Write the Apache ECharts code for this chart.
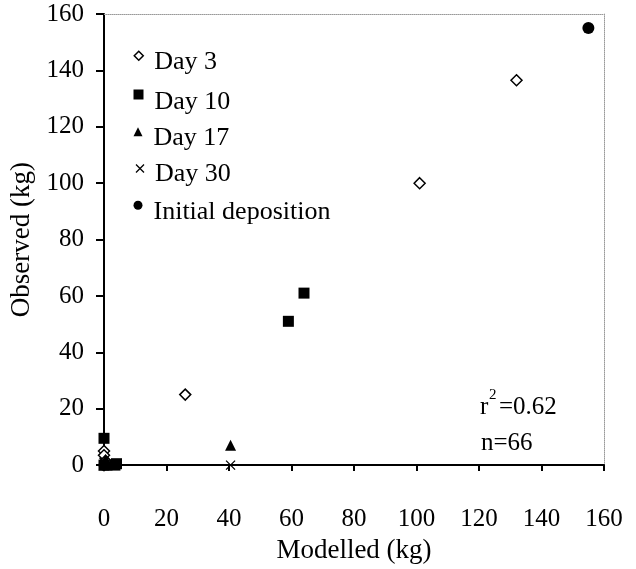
<!DOCTYPE html>
<html>
<head>
<meta charset="utf-8">
<script src="https://cdn.jsdelivr.net/npm/echarts@6/dist/echarts.min.js"></script>
<style>
html,body{margin:0;padding:0;background:#fff;}
#c{width:636px;height:569px;}
</style>
</head>
<body>
<div id="c"></div>
<script>
// Data (Modelled kg, Observed kg)
const day3 = [[0,5],[0,3.5],[0.5,1.5],[0,0],[26,25],[101,100],[132,136.5]];
const day10 = [[0,9.5],[0,0],[3.5,0],[4,0.5],[59,51],[64,61]];
const day17 = [[0,0],[0.5,2],[1,0],[40.5,7],[40.5,-0.5]];
const day30 = [[0,0],[0.5,0.5],[0,1],[1,0],[40.5,0]];
const initialDep = [[155,155]];
const xTicks = [0,20,40,60,80,100,120,140,160];
const yTicks = [0,20,40,60,80,100,120,140,160];
const seriesNames = ['Day 3','Day 10','Day 17','Day 30','Initial deposition'];
const statR2 = '0.62';
const statN = '66';

const FONT = 'Liberation Serif';
const crossPath = 'path://M0,0L10,10M10,0L0,10';
// legend icons: shape in the top of the box so the icon sits above the text centre
const icDiamond = 'path://M5,0L10,5L5,10L0,5ZM5,25L5,25';
const icRect = 'path://M0,0L10,0L10,10L0,10ZM5,25L5,25';
const icTri = 'path://M5,0L10,10L0,10ZM5,25L5,25';
const icCross = 'path://M0,0L10,10M10,0L0,10M5,25L5,25';
const icCircle = 'path://M0,5A5,5,0,1,1,10,5A5,5,0,1,1,0,5ZM5,25L5,25';

const chart = echarts.init(document.getElementById('c'), null, {renderer:'canvas'});

function legendAt(name, top, icon, w, h, style){
  return {
    show:true, orient:'vertical', left:133.5, top:top,
    itemWidth:w, itemHeight:h, itemGap:0,
    data:[{name:name, icon:icon, itemStyle:style}],
    textStyle:{fontFamily:FONT, fontSize:26, color:'#000', padding:[0,0,0,6], lineHeight:26},
    selectedMode:false,
    padding:0
  };
}

const option = {
  animation:false,
  backgroundColor:'#fff',
  grid:{left:104, right:32, top:14, bottom:97, containLabel:false},
  xAxis:[{
    type:'value', min:xTicks[0], max:xTicks[xTicks.length-1], interval:20,
    position:'bottom',
    name:'Modelled (kg)', nameLocation:'middle', nameGap:65,
    nameTextStyle:{fontFamily:FONT, fontSize:27, color:'#000'},
    axisLine:{show:true, onZero:false, lineStyle:{color:'#000', width:2}},
    axisTick:{show:true, length:6, lineStyle:{color:'#000', width:2}},
    axisLabel:{fontFamily:FONT, fontSize:25, color:'#000', margin:42, showMinLabel:true, showMaxLabel:true},
    splitLine:{show:false}
  },{
    type:'value', min:xTicks[0], max:xTicks[xTicks.length-1], interval:20,
    position:'top',
    axisLine:{show:true, onZero:false, lineStyle:{color:'#999', width:1, type:'dotted'}},
    axisTick:{show:false}, axisLabel:{show:false}, splitLine:{show:false}
  }],
  yAxis:[{
    type:'value', min:yTicks[0], max:yTicks[yTicks.length-1], interval:20,
    position:'left',
    name:'Observed (kg)', nameLocation:'middle', nameGap:58,
    nameTextStyle:{fontFamily:FONT, fontSize:27, color:'#000'},
    axisLine:{show:true, onZero:false, lineStyle:{color:'#000', width:2}},
    axisTick:{show:true, length:8, lineStyle:{color:'#000', width:2}},
    axisLabel:{fontFamily:FONT, fontSize:25, color:'#000', margin:20, showMinLabel:true, showMaxLabel:true},
    splitLine:{show:false}
  },{
    type:'value', min:yTicks[0], max:yTicks[yTicks.length-1], interval:20,
    position:'right',
    axisLine:{show:true, onZero:false, lineStyle:{color:'#999', width:1, type:'dotted'}},
    axisTick:{show:false}, axisLabel:{show:false}, splitLine:{show:false}
  }],
  legend:[
    legendAt(seriesNames[0], 49.5, icDiamond, 9, 22.5, {color:'#fff', borderColor:'#000', borderWidth:1.5}),
    legendAt(seriesNames[1], 89, icRect, 10, 25, {color:'#000', borderWidth:0}),
    legendAt(seriesNames[2], 125.5, icTri, 9, 22.5, {color:'#000', borderWidth:0}),
    legendAt(seriesNames[3], 161.5, icCross, 8, 20, {color:'none', borderColor:'#000', borderWidth:1.3}),
    legendAt(seriesNames[4], 199, icCircle, 9, 22.5, {color:'#000', borderWidth:0})
  ],
  graphic:[{
    type:'group', left:480, top:388,
    children:[
      {type:'text', x:0, y:0, style:{text:'r', font:'25px "Liberation Serif"', fill:'#000'}},
      {type:'text', x:9, y:-7, style:{text:'2', font:'15px "Liberation Serif"', fill:'#000'}},
      {type:'text', x:19, y:0, style:{text:'=' + statR2, font:'25px "Liberation Serif"', fill:'#000'}},
      {type:'text', x:1, y:36, style:{text:'n=' + statN, font:'25px "Liberation Serif"', fill:'#000'}}
    ]
  }],
  series:[
    {name:seriesNames[0], type:'scatter', data:day3, symbol:'diamond', symbolSize:11,
     itemStyle:{color:'#fff', borderColor:'#000', borderWidth:1.5, opacity:1}},
    {name:seriesNames[1], type:'scatter', data:day10, symbol:'rect', symbolSize:11,
     itemStyle:{color:'#000', opacity:1}},
    {name:seriesNames[2], type:'scatter', data:day17, symbol:'triangle', symbolSize:11,
     itemStyle:{color:'#000', opacity:1}},
    {name:seriesNames[3], type:'scatter', data:day30, symbol:crossPath, symbolSize:9,
     itemStyle:{color:'none', borderColor:'#000', borderWidth:1.3, opacity:1}},
    {name:seriesNames[4], type:'scatter', data:initialDep, symbol:'circle', symbolSize:12,
     itemStyle:{color:'#000', opacity:1}}
  ]
};
chart.setOption(option);
</script>
</body>
</html>
